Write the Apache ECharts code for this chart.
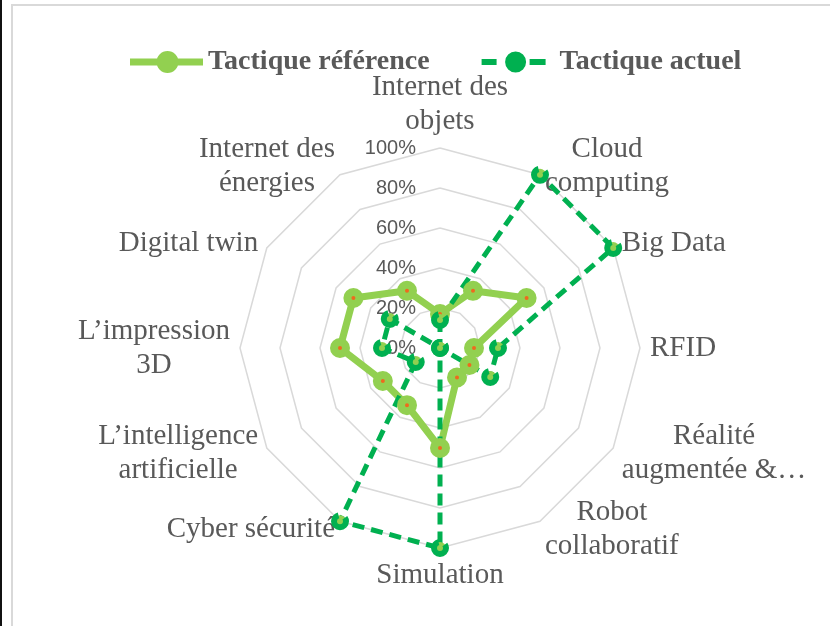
<!DOCTYPE html>
<html>
<head>
<meta charset="utf-8">
<script src="https://cdn.jsdelivr.net/npm/echarts@6/dist/echarts.min.js"></script>
<style>
  html, body { margin: 0; padding: 0; background: #fff; }
  #chart { width: 830px; height: 626px; }
</style>
</head>
<body>
<div id="chart"></div>
<script>
// axes, clockwise from the top
const indicatorNames = [
    'Internet des\nobjets', 'Cloud\ncomputing', 'Big Data', 'RFID',
    'Réalité\naugmentée &…', 'Robot\ncollaboratif', 'Simulation', 'Cyber sécurité',
    'L’intelligence\nartificielle', 'L’impression\n3D', 'Digital twin', 'Internet des\nénergies'
];
const seriesNames = ['Tactique référence', 'Tactique actuel'];
const referenceValues = [0.17, 0.33, 0.5, 0.17, 0.17, 0.17, 0.5, 0.33, 0.33, 0.5, 0.5, 0.33];
const currentValues = [0.14, 1, 1, 0.29, 0.29, 0, 1, 1, 0.14, 0.29, 0.29, 0];

// echarts radar runs counter-clockwise, so keep the first axis and reverse the rest
const order = [0].concat(indicatorNames.map((_, i) => i).slice(1).reverse());
const pick = (arr) => order.map(i => arr[i]);

const grey = '#595959';
const lightGreen = '#92D050';
const darkGreen = '#00B050';

// legend icons: line + marker
const refIcon = 'path://M0,7.5 H27 V14.5 H0 Z M48,7.5 H73 V14.5 H48 Z M26.5,11 A11,11 0 1,1 48.5,11 A11,11 0 1,1 26.5,11 Z';
const curIcon = 'path://M0,8 H15 V14 H0 Z M48,8 H64 V14 H48 Z M23.5,11 A10.5,10.5 0 1,1 44.5,11 A10.5,10.5 0 1,1 23.5,11 Z M73,11 L73,11 Z';

const chart = echarts.init(document.getElementById('chart'));

chart.setOption({
    animation: false,
    graphic: [
        { type: 'rect', shape: { x: 0, y: 0, width: 2, height: 626 }, style: { fill: '#111' } },
        { type: 'rect', shape: { x: 12, y: 5, width: 900, height: 900 }, style: { fill: 'none', stroke: '#D9D9D9', lineWidth: 2 } }
    ],
    legend: {
        left: 125,
        top: 43,
        itemWidth: 73,
        itemHeight: 22,
        itemGap: 52,
        textStyle: { fontFamily: 'Liberation Serif', fontWeight: 'bold', fontSize: 28, color: grey },
        data: [
            { name: seriesNames[0], icon: refIcon, itemStyle: { color: lightGreen, borderWidth: 0 } },
            { name: seriesNames[1], icon: curIcon, itemStyle: { color: darkGreen, borderWidth: 0 } }
        ]
    },
    radar: {
        center: [440, 348],
        radius: 200,
        startAngle: 90,
        splitNumber: 5,
        shape: 'polygon',
        nameGap: 10,
        axisName: {
            color: grey,
            fontFamily: 'Liberation Serif',
            fontSize: 29,
            lineHeight: 34,
            formatter: (name) => name.split('\n').map(l => '{c|' + l + '}').join('\n'),
            rich: {
                c: { align: 'center', color: grey, fontFamily: 'Liberation Serif', fontSize: 29, lineHeight: 34 }
            }
        },
        axisLine: { show: false },
        axisTick: { show: false },
        splitArea: { show: false },
        splitLine: { lineStyle: { color: '#D9D9D9', width: 1.5 } },
        axisLabel: { show: false },
        indicator: pick(indicatorNames).map((n, i) => ({
            name: n, min: 0, max: 1,
            axisLabel: i === 0 ? {
                show: true, margin: 24, color: grey,
                fontFamily: 'Liberation Sans', fontSize: 20,
                formatter: (v) => Math.round(v * 100) + '%'
            } : { show: false }
        }))
    },
    series: [
        {
            type: 'radar',
            symbol: 'circle',
            symbolSize: 12,
            lineStyle: { color: lightGreen, width: 7 },
            itemStyle: { color: '#EE6A1E', borderColor: lightGreen, borderWidth: 8 },
            data: [{ name: seriesNames[0], value: pick(referenceValues) }]
        },
        {
            type: 'radar',
            symbol: 'circle',
            symbolSize: 12,
            lineStyle: { color: darkGreen, width: 5, type: [12, 7] },
            itemStyle: { color: lightGreen, borderColor: darkGreen, borderWidth: 6, borderType: [26, 7] },
            data: [{ name: seriesNames[1], value: pick(currentValues) }]
        }
    ]
});
</script>
</body>
</html>
